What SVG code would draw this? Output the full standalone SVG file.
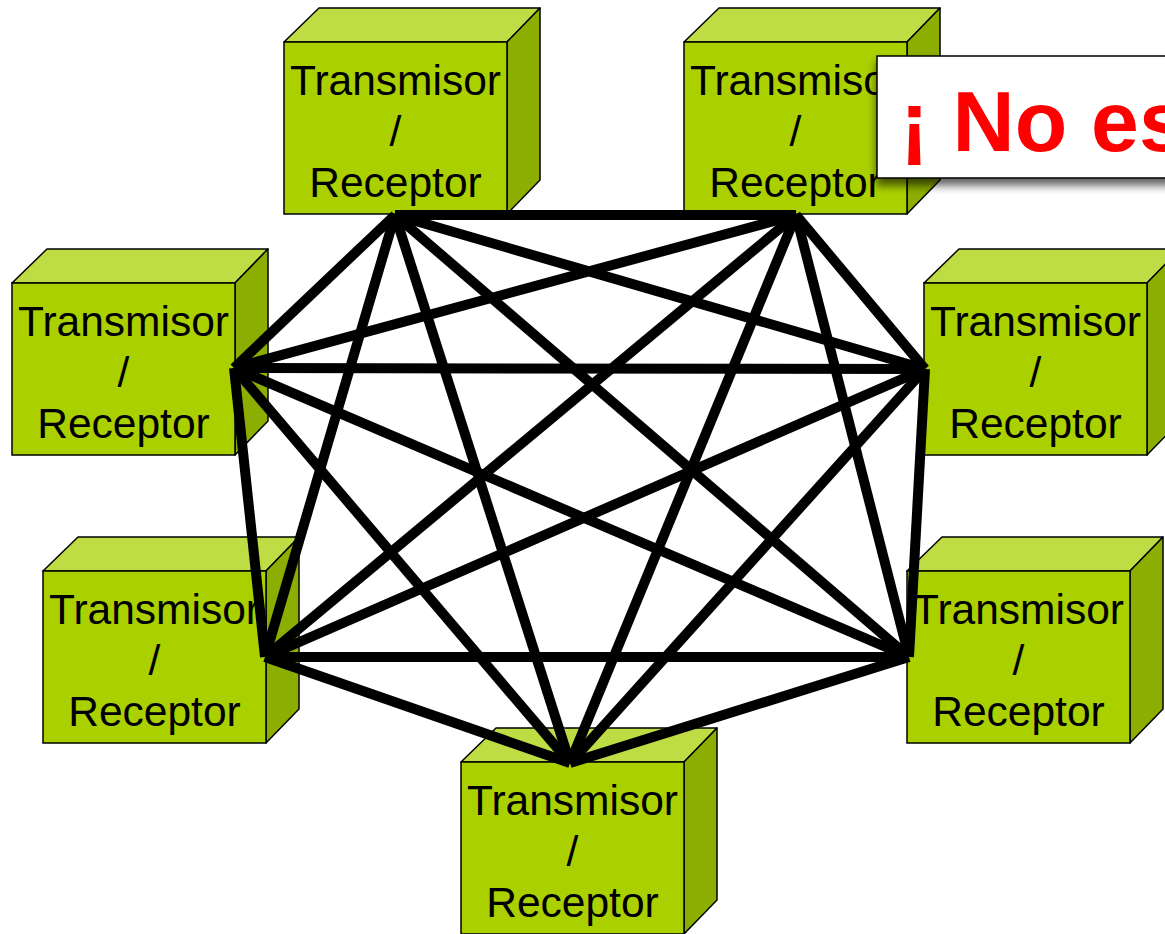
<svg xmlns="http://www.w3.org/2000/svg" xmlns:xlink="http://www.w3.org/1999/xlink" width="1165" height="934" viewBox="0 0 1165 934">
<style>
.front{fill:#AAD000;stroke:#000;stroke-width:1.5}
.top{fill:#BEDC44;stroke:#000;stroke-width:1.5;stroke-linejoin:round}
.side{fill:#8BAE00;stroke:#000;stroke-width:1.5;stroke-linejoin:round}
.lbl{font-family:"Liberation Sans",Arial,sans-serif;font-size:42.5px;fill:#000;text-anchor:middle}
.edge{stroke:#000;stroke-width:10;stroke-linecap:butt;fill:none}
.warn{font-family:"Liberation Sans",Arial,sans-serif;font-size:86px;font-weight:bold;fill:#FF0000}
</style>
<defs>
<g id="cube">
<path class="top" d="M0,0 L35,-34 L256,-34 L223,0 Z"/>
<path class="side" d="M223,0 L256,-34 L256,138 L223,172 Z"/>
<rect class="front" x="0" y="0" width="223" height="172"/>
<text class="lbl" x="111.5" y="53">Transmisor</text>
<text class="lbl" x="111.5" y="104">/</text>
<text class="lbl" x="111.5" y="155">Receptor</text>
</g>
<filter id="shadow" x="-10%" y="-20%" width="130%" height="160%">
<feGaussianBlur in="SourceAlpha" stdDeviation="4"/>
<feOffset dx="0" dy="7" result="b"/>
<feComponentTransfer><feFuncA type="linear" slope="0.6"/></feComponentTransfer>
<feMerge><feMergeNode/><feMergeNode in="SourceGraphic"/></feMerge>
</filter>
</defs>
<rect width="1165" height="934" fill="#fff"/>
<g id="node1"><use xlink:href="#cube" transform="translate(284,42)"/></g>
<g id="node2"><use xlink:href="#cube" transform="translate(684,42)"/></g>
<g id="node3"><use xlink:href="#cube" transform="translate(12,283)"/></g>
<g id="node4"><use xlink:href="#cube" transform="translate(924,283)"/></g>
<g id="node5"><use xlink:href="#cube" transform="translate(43,571)"/></g>
<g id="node6"><use xlink:href="#cube" transform="translate(907,571)"/></g>
<g id="node7"><use xlink:href="#cube" transform="translate(461,762)"/></g>
<g id="connectors" class="edge">
<line x1="395" y1="215" x2="796" y2="215"/>
<line x1="395" y1="215" x2="234" y2="368"/>
<line x1="395" y1="215" x2="925" y2="369"/>
<line x1="395" y1="215" x2="265" y2="657"/>
<line x1="395" y1="215" x2="909" y2="657"/>
<line x1="395" y1="215" x2="570" y2="763"/>
<line x1="796" y1="215" x2="234" y2="368"/>
<line x1="796" y1="215" x2="925" y2="369"/>
<line x1="796" y1="215" x2="265" y2="657"/>
<line x1="796" y1="215" x2="909" y2="657"/>
<line x1="796" y1="215" x2="570" y2="763"/>
<line x1="234" y1="368" x2="925" y2="369"/>
<line x1="234" y1="368" x2="265" y2="657"/>
<line x1="234" y1="368" x2="909" y2="657"/>
<line x1="234" y1="368" x2="570" y2="763"/>
<line x1="925" y1="369" x2="265" y2="657"/>
<line x1="925" y1="369" x2="909" y2="657"/>
<line x1="925" y1="369" x2="570" y2="763"/>
<line x1="265" y1="657" x2="909" y2="657"/>
<line x1="265" y1="657" x2="570" y2="763"/>
<line x1="909" y1="657" x2="570" y2="763"/>
</g>
<g id="callout">
<rect x="877" y="56" width="320" height="122" fill="#fff" stroke="#000" stroke-width="1.5" filter="url(#shadow)"/>
<text class="warn" x="900" y="151">¡ No es</text>
</g>
</svg>
